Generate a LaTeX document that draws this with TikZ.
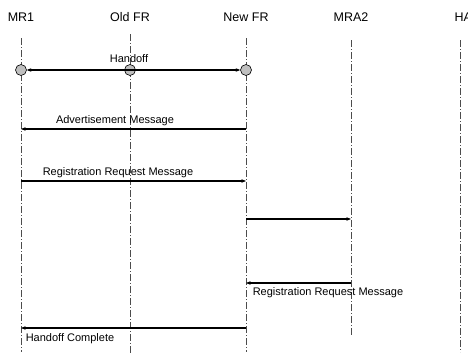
\documentclass[tikz,border=0pt]{standalone}
\usepackage{fontspec}
\setmainfont{Liberation Sans}
\usetikzlibrary{arrows.meta}

\begin{document}
\begin{tikzpicture}[x=1pt,y=-1pt,
    lifeline/.style={line width=0.6pt, black!70, dash pattern=on 7pt off 2pt on 1pt off 2pt},
    msg/.style={line width=1.1pt, -{Stealth[length=4.5pt,width=3.5pt]}},
    station/.style={circle, draw, line width=0.6pt, fill=black!25, inner sep=0pt, minimum size=11pt},
    entity/.style={font=\fontsize{12.5}{14}\selectfont},
    msglabel/.style={font=\fontsize{11}{13}\selectfont}]
    \useasboundingbox (0,0) rectangle (468,354);

    % Column positions
    \def\xmr{21}
    \def\xold{130}
    \def\xnew{246}
    \def\xmra{351}
    \def\xha{460}

    % Entities
    \node[entity] (mr1) at (\xmr,17) {MR1};
    \node[entity] (oldfr) at (\xold,17) {Old FR};
    \node[entity] (newfr) at (\xnew,17) {New FR};
    \node[entity] (mra2) at (\xmra,17) {MRA2};
    \node[entity, anchor=west] (ha) at (451,17) {HA};

    % Draw lifelines
    \foreach \x/\t/\b in {\xmr/38/352, \xold/34/354, \xnew/38/352, \xmra/40/336, \xha/40/352} {
        \draw[lifeline] (\x,\t) -- (\x,\b);
    }

    % Handoff
    \node[station] (s-mr1) at (\xmr,70) {};
    \node[station] (s-old) at (\xold,70) {};
    \node[station] (s-new) at (\xnew,70) {};
    \draw[msg, {Stealth[length=4.5pt,width=3.5pt]}-{Stealth[length=4.5pt,width=3.5pt]}] (s-mr1) -- (s-new);
    \node[msglabel] (handoff) at (129,59) {Handoff};

    % Message end points
    \coordinate (adv-new) at (\xnew,129);
    \coordinate (adv-mr1) at (\xmr,129);
    \coordinate (reg-mr1) at (\xmr,181);
    \coordinate (reg-new) at (\xnew,181);
    \coordinate (fwd-new) at (\xnew,219);
    \coordinate (fwd-mra) at (\xmra,219);
    \coordinate (rep-mra) at (\xmra,283);
    \coordinate (rep-new) at (\xnew,283);
    \coordinate (hc-new) at (\xnew,328);
    \coordinate (hc-mr1) at (\xmr,328);

    % Draw messages
    \draw[msg] (adv-new) -- (adv-mr1);
    \draw[msg] (reg-mr1) -- (reg-new);
    \draw[msg] (fwd-new) -- (fwd-mra);
    \draw[msg] (rep-mra) -- (rep-new);
    \draw[msg] (hc-new) -- (hc-mr1);

    % Labels
    \node[msglabel] (adv) at (115,121) {Advertisement Message};
    \node[msglabel] (reg) at (118,173) {Registration Request Message};
    \node[msglabel] (rep) at (328,293) {Registration Request Message};
    \node[msglabel] (hc) at (70,339) {Handoff Complete};
\end{tikzpicture}
\end{document}
